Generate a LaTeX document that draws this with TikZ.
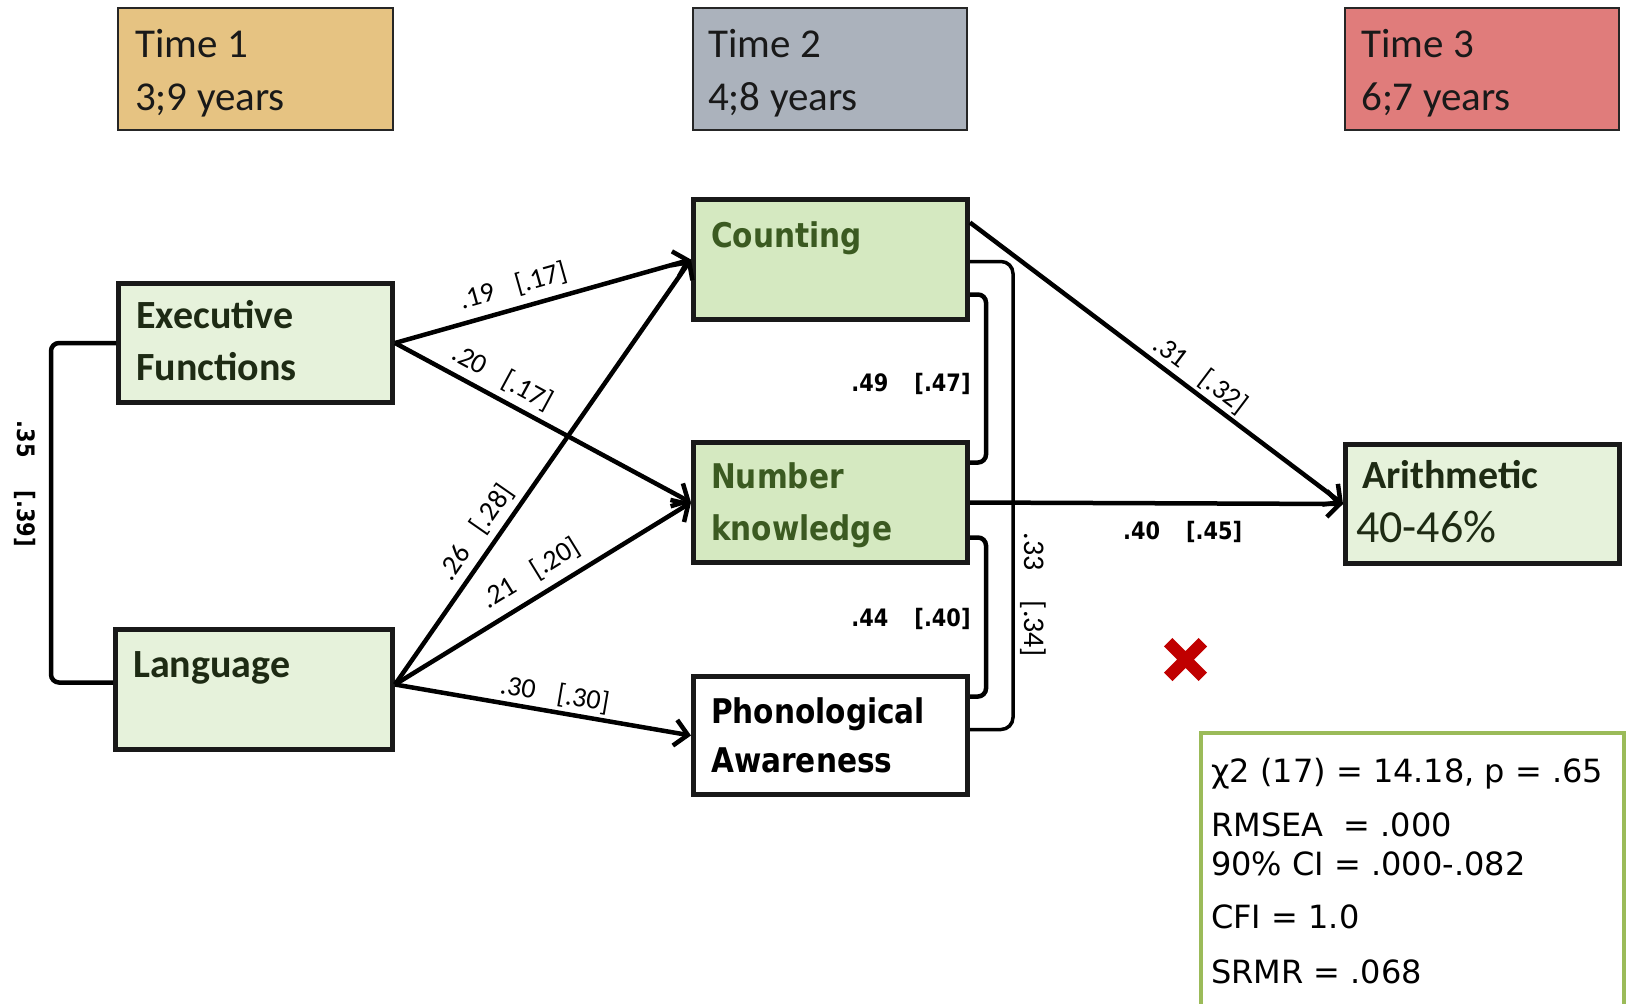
\documentclass[tikz,border=0pt]{standalone}
\usepackage{fontspec}
\usetikzlibrary{arrows.meta,calc}
\newfontfamily\calfont{Carlito}
\newfontfamily\tahfont[FakeStretch=0.87]{DejaVu Sans}
\newfontfamily\verfont{DejaVu Sans}
\definecolor{tone}{HTML}{E6C382}
\definecolor{ttwo}{HTML}{ABB2BC}
\definecolor{tthree}{HTML}{E07C7B}
\definecolor{lgreen}{HTML}{E6F2DB}
\definecolor{mgreen}{HTML}{D5E9C1}
\definecolor{fitgreen}{HTML}{9BBB59}
\definecolor{dtext}{HTML}{1E2B14}
\definecolor{gtext}{HTML}{3B5A21}
\definecolor{xred}{HTML}{C00000}
\begin{document}
\begin{tikzpicture}[x=1pt,y=-1pt,
  timebox/.style={draw=black!85, line width=2pt, minimum height=122pt, inner sep=0},
  box/.style={draw=black!90, line width=5pt, minimum width=274pt, minimum height=120pt, inner sep=0},
  timetxt/.style={anchor=base west, inner sep=0, text=black!90, font=\calfont\fontsize{41}{49}\selectfont},
  calbold/.style={anchor=base west, inner sep=0, text=dtext, font=\calfont\bfseries\fontsize{40}{48}\selectfont},
  tahbold/.style={anchor=base west, inner sep=0, font=\tahfont\bfseries\fontsize{34}{40}\selectfont},
  fittxt/.style={anchor=base west, inner sep=0, font=\verfont\fontsize{32}{38}\selectfont},
  arr/.style={line width=4.5pt, -{Straight Barb[length=13pt,width=26pt]}},
  cov/.style={line width=4.5pt, rounded corners=8pt},
  slbl/.style={sloped, inner sep=0, text height=17pt, text depth=0pt, font=\calfont\fontsize{28}{32}\selectfont},
  clbl/.style={inner sep=0, font=\tahfont\bfseries\fontsize{24}{28}\selectfont},
]
\useasboundingbox (0,0) rectangle (1626,1004);
\clip (0,0) rectangle (1626,1004);

% time boxes
\node[timebox, fill=tone, minimum width=275pt] (t1) at (255.5,69) {};
\node[timebox, fill=ttwo, minimum width=274pt] (t2) at (830,69) {};
\node[timebox, fill=tthree, minimum width=274pt] (t3) at (1482,69) {};
\node[timetxt] (t1a) at (135,57) {Time 1};
\node[timetxt] (t1b) at (135,110) {3;9 years};
\node[timetxt] (t2a) at (708,57) {Time 2};
\node[timetxt] (t2b) at (708,110) {4;8 years};
\node[timetxt] (t3a) at (1361,57) {Time 3};
\node[timetxt] (t3b) at (1361,110) {6;7 years};

% main boxes
\node[box, fill=lgreen, minimum height=119pt] (ef) at (255.5,343) {};
\node[box, fill=lgreen, minimum width=277pt, minimum height=120pt] (lang) at (254,689.5) {};
\node[box, fill=mgreen, minimum height=120pt] (cnt) at (830.5,259.5) {};
\node[box, fill=mgreen, minimum height=120pt] (nk) at (830.5,502.5) {};
\node[box, fill=white, minimum height=118pt] (pa) at (830.5,735.5) {};
\node[box, fill=lgreen, minimum height=119pt] (ar) at (1482.5,504) {};

% box texts
\node[calbold] (efa) at (136,328) {Executive};
\node[calbold] (efb) at (136,380) {Functions};
\node[calbold] (langa) at (133,677) {Language};
\node[tahbold, text=gtext] (cnta) at (711,247) {Counting};
\node[tahbold, text=gtext] (nka) at (711,488) {Number};
\node[tahbold, text=gtext] (nkb) at (711,540) {knowledge};
\node[tahbold, text=black] (paa) at (711,723) {Phonological};
\node[tahbold, text=black] (pab) at (711,772) {Awareness};
\node[calbold] (ara) at (1362,488) {Arithmetic};
\node[anchor=base west, inner sep=0, text=dtext, font=\calfont\fontsize{46}{52}\selectfont] (arb) at (1356,542) {40-46\%};

% paths
\draw[arr] (ef.east) -- (cnt.west) node[slbl, pos=0.42, above=12pt] (l1) {.19\hspace{22pt}[.17]};
\draw[arr] (ef.east) -- (nk.west) node[slbl, pos=0.33, above=10pt] (l2) {.20\hspace{22pt}[.17]};
\draw[arr] ($(lang.east)+(0,-5)$) -- (cnt.west) node[slbl, pos=0.33, above=10pt] (l3) {.26\hspace{22pt}[.28]};
\draw[arr] ($(lang.east)+(0,-5)$) -- (nk.west) node[slbl, pos=0.5, above=13pt] (l4) {.21\hspace{22pt}[.20]};
\draw[arr] ($(lang.east)+(0,-5)$) -- (pa.west) node[slbl, pos=0.53, above=7pt] (l5) {.30\hspace{22pt}[.30]};
\draw[arr] ($(cnt.east)+(0,-37)$) -- (ar.west) node[slbl, pos=0.59, above=7pt] (l6) {.31\hspace{22pt}[.32]};
\draw[arr] (nk.east) -- (ar.west) node[clbl, pos=0.57, below=16pt] (l7) {.40\hspace{26pt}[.45]};

% covariances
\draw[cov] (ef.west) -- ++(-65,0) |- ($(lang.west)+(0,-7)$);
\draw[cov] ($(cnt.east)+(0,35)$) -- ++(16,0) |- ($(nk.east)+(0,-40)$);
\draw[cov] ($(nk.east)+(0,35)$) -- ++(16,0) |- ($(pa.east)+(0,-39)$);
\draw[cov, line width=3.5pt, rounded corners=12pt] ($(cnt.east)+(0,2)$) -- ++(43,0) |- ($(pa.east)+(0,-6)$);
\node[clbl] (c1) at (911,384) {.49\hspace{26pt}[.47]};
\node[clbl] (c2) at (911,619) {.44\hspace{26pt}[.40]};
\node[clbl, rotate=-90] (c3) at (25,484) {.35\hspace{33pt}[.39]};
\node[inner sep=0, rotate=-90, font=\calfont\fontsize{30}{34}\selectfont] (c4) at (1033,595) {.33\hspace{30pt}[.34]};

% red cross
\draw[xred, line width=12pt] (1168.2,642.2) -- (1202.8,676.8) (1168.2,676.8) -- (1202.8,642.2);

% fit box
\node[draw=fitgreen, line width=4.5pt, minimum width=423pt, minimum height=279pt, inner sep=0] (fitbox) at (1412.5,872.5) {};
\node[fittxt] (f1) at (1211,782) {χ2 (17) = 14.18, p = .65};
\node[fittxt] (f2) at (1211,836) {RMSEA\ \ = .000};
\node[fittxt] (f3) at (1211,875) {90\% CI = .000-.082};
\node[fittxt] (f4) at (1211,928) {CFI = 1.0};
\node[fittxt] (f5) at (1211,983) {SRMR = .068};
\end{tikzpicture}
\end{document}
